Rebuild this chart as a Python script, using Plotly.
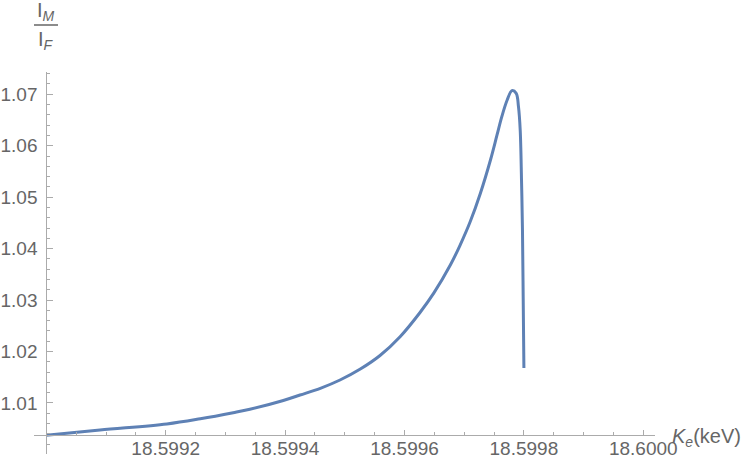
import plotly.graph_objects as go

# curve (kinetic energy in keV, ratio I_M / I_F)
ke_kev = [
    18.5990000, 18.5990900, 18.5992020, 18.5992580, 18.5993130, 18.5993410,
    18.5993970, 18.5994250, 18.5994590, 18.5994920, 18.5995260, 18.5995590,
    18.5995930, 18.5996260, 18.5996490, 18.5996770, 18.5996930, 18.5997100,
    18.5997270, 18.5997440, 18.5997550, 18.5997630, 18.5997720, 18.5997800,
    18.5997871, 18.5997909, 18.5997938, 18.5997960, 18.5997976, 18.5997988,
    18.5998000,
]
ratio = [
    1.00372, 1.00475, 1.00592, 1.00693, 1.00811, 1.00878,
    1.01049, 1.01155, 1.01286, 1.01447, 1.01660, 1.01923,
    1.02293, 1.02759, 1.03134, 1.03686, 1.04065, 1.04522,
    1.05072, 1.05723, 1.06209, 1.06565, 1.06889, 1.07070,
    1.07019, 1.06759, 1.06306, 1.05334, 1.04362, 1.03066,
    1.01680,
]

x_tickvals = [18.5992, 18.5994, 18.5996, 18.5998, 18.6000]
x_ticktext = ["18.5992", "18.5994", "18.5996", "18.5998", "18.6000"]
y_tickvals = [1.01, 1.02, 1.03, 1.04, 1.05, 1.06, 1.07]
y_ticktext = ["1.01", "1.02", "1.03", "1.04", "1.05", "1.06", "1.07"]

LINE = "#5E81B5"
AXIS = "#ABABAB"
LABEL = "#666666"
FONT = "Liberation Sans, Arial, sans-serif"

W, H = 750, 468
# plot area in pixels
L, R, T, B = 34, 655, 72, 454


def px(xp):
    return (xp - L) / (R - L)


def py(yp):
    return (B - yp) / (B - T)


fig = go.Figure()
fig.add_trace(go.Scatter(
    x=ke_kev,
    y=ratio,
    mode="lines",
    line=dict(color=LINE, width=3, shape="spline", smoothing=1.0),
    showlegend=False,
    hoverinfo="skip",
))

fig.update_layout(
    width=W,
    height=H,
    plot_bgcolor="white",
    paper_bgcolor="white",
    font=dict(family=FONT, size=18, color=LABEL),
    margin=dict(l=L, r=W - R, t=T, b=H - B, autoexpand=False),
    showlegend=False,
)

fig.update_xaxes(
    range=[18.5989794, 18.6000196],
    anchor="free",
    position=py(435.3),
    automargin=False,
    showline=True,
    linecolor=AXIS,
    linewidth=1,
    showgrid=False,
    zeroline=False,
    tickmode="array",
    tickvals=x_tickvals,
    ticktext=x_ticktext,
    ticks="inside",
    ticklen=5,
    tickcolor=AXIS,
    ticklabelstandoff=-4,
    tickfont=dict(family=FONT, size=19, color=LABEL),
    minor=dict(tick0=18.599, dtick=0.00005, ticks="inside", ticklen=3, tickcolor=AXIS),
)

fig.update_yaxes(
    range=[1.000087, 1.07433],
    anchor="free",
    position=px(46.3),
    automargin=False,
    showline=True,
    linecolor=AXIS,
    linewidth=1,
    showgrid=False,
    zeroline=False,
    tickmode="array",
    tickvals=y_tickvals,
    ticktext=y_ticktext,
    ticks="inside",
    ticklen=6,
    tickcolor=AXIS,
    ticklabelstandoff=5,
    tickfont=dict(family=FONT, size=19, color=LABEL),
    minor=dict(tick0=1.0, dtick=0.002, ticks="inside", ticklen=3, tickcolor=AXIS),
)

# axis labels, placed like Mathematica's AxesLabel
fig.add_annotation(
    x=px(670), y=py(437), xref="paper", yref="paper",
    xanchor="left", yanchor="middle", showarrow=False,
    text="<i>K</i><sub><i>e</i></sub>(keV)",
    font=dict(family=FONT, size=20, color=LABEL),
)
fig.add_annotation(
    x=px(46), y=py(26), xref="paper", yref="paper",
    xanchor="center", yanchor="bottom", showarrow=False,
    text="I<sub><i>M</i></sub>",
    font=dict(family=FONT, size=20, color=LABEL),
)
fig.add_annotation(
    x=px(46), y=py(26), xref="paper", yref="paper",
    xanchor="center", yanchor="top", showarrow=False,
    text="I<sub><i>F</i></sub>",
    font=dict(family=FONT, size=20, color=LABEL),
)
fig.add_shape(
    type="line", xref="paper", yref="paper",
    x0=px(34), x1=px(58), y0=py(25), y1=py(25),
    line=dict(color=LABEL, width=1.5),
)

# drop the browser's default 8px body margin so the figure sits at (0, 0)
fig.write_html(
    "out.html",
    config={"displayModeBar": False},
    post_script="document.body.style.margin = '0';",
)
